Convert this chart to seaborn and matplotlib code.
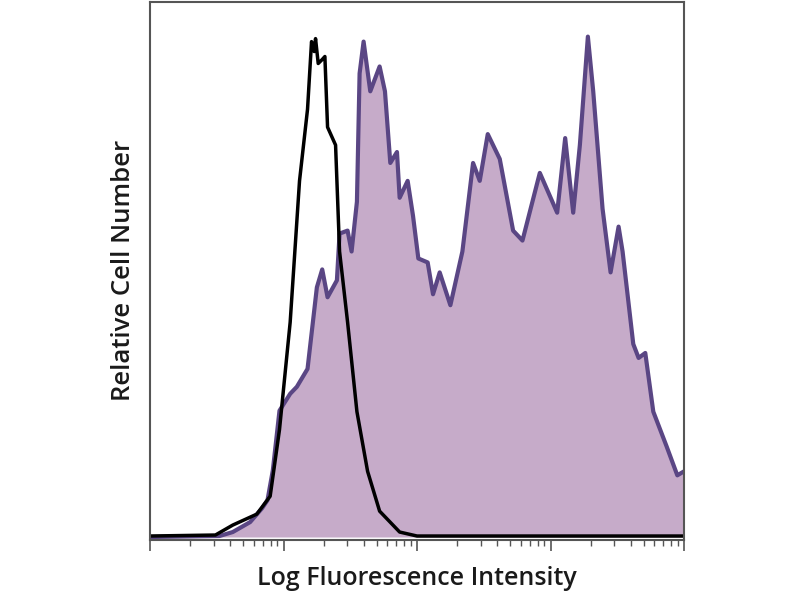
import numpy as np
import pandas as pd
import matplotlib
matplotlib.use("Agg")
import matplotlib.pyplot as plt
import seaborn as sns

# log10 fluorescence (decades) and relative counts
control_x = [0.00, 0.49, 0.62, 0.80, 0.90, 0.97, 1.05, 1.12, 1.18, 1.21, 1.23, 1.24,
             1.26, 1.29, 1.31, 1.33, 1.39, 1.42, 1.48, 1.55, 1.63, 1.72, 1.87, 2.00, 4.00]
control_y = [1, 2, 12, 23, 41, 108, 216, 358, 430, 498, 488, 501,
             476, 480, 483, 412, 394, 287, 216, 126, 66, 26, 5, 1, 1]

stain_x = [0.00, 0.52, 0.62, 0.75, 0.84, 0.88, 0.92, 0.97, 1.05, 1.10, 1.18, 1.25,
           1.29, 1.33, 1.40, 1.42, 1.48, 1.51, 1.55, 1.57, 1.60, 1.65, 1.72, 1.76,
           1.80, 1.85, 1.87, 1.93, 1.97, 2.01, 2.08, 2.12, 2.17, 2.25, 2.34, 2.42,
           2.47, 2.53, 2.62, 2.72, 2.79, 2.92, 3.05, 3.11, 3.17, 3.22, 3.28, 3.32,
           3.39, 3.45, 3.51, 3.54, 3.62, 3.66, 3.71, 3.77, 3.87, 3.95, 4.00]
stain_y = [0, 1, 5, 15, 29, 37, 67, 127, 144, 151, 169, 251,
           269, 241, 258, 305, 308, 287, 337, 466, 498, 448, 473, 448,
           376, 387, 341, 358, 323, 280, 276, 244, 266, 233, 287, 376,
           358, 405, 380, 308, 298, 366, 326, 401, 326, 394, 503, 448,
           330, 266, 312, 287, 194, 180, 185, 126, 91, 62, 66]

control = pd.DataFrame({"log_fl": control_x, "count": control_y})
stain = pd.DataFrame({"log_fl": stain_x, "count": stain_y})

sns.set_style("white")
plt.rcParams["font.family"] = ["Open Sans", "DejaVu Sans"]

fig = plt.figure(figsize=(8, 6), dpi=100)
ax = fig.add_axes([0.1875, 0.1, 0.6675, 0.897])

# stained sample: filled histogram with a dark purple outline
ax.fill_between(stain["log_fl"], stain["count"], color="#c6abc9", lw=0)
sns.lineplot(data=stain, x="log_fl", y="count", sort=False, color="#5a4684", lw=3, ax=ax)
# isotype control: black outline
sns.lineplot(data=control, x="log_fl", y="count", sort=False, color="black", lw=2.5, ax=ax)

ax.set_xlim(0, 4)
ax.set_ylim(-3, 538)
ax.set_yticks([])
ax.set_xticks([0, 1, 2, 3, 4])
ax.set_xticklabels([])
minor = [d + np.log10(k) for d in range(4) for k in range(2, 10)]
ax.set_xticks(minor, minor=True)
ax.tick_params(axis="x", which="major", direction="out", length=8, width=1.2, color="#555555", bottom=True)
ax.tick_params(axis="x", which="minor", direction="out", length=4, width=1, color="#555555", bottom=True)

for s in ax.spines.values():
    s.set_color("#555555")
    s.set_linewidth(1.5)

ax.set_xlabel("Log Fluorescence Intensity", fontsize=18, fontweight="semibold",
              color="#1a1a1a", labelpad=7)
ax.set_ylabel("Relative Cell Number", fontsize=18.5, fontweight="semibold",
              color="#1a1a1a", labelpad=10)

plt.savefig("out.png", dpi=100)
